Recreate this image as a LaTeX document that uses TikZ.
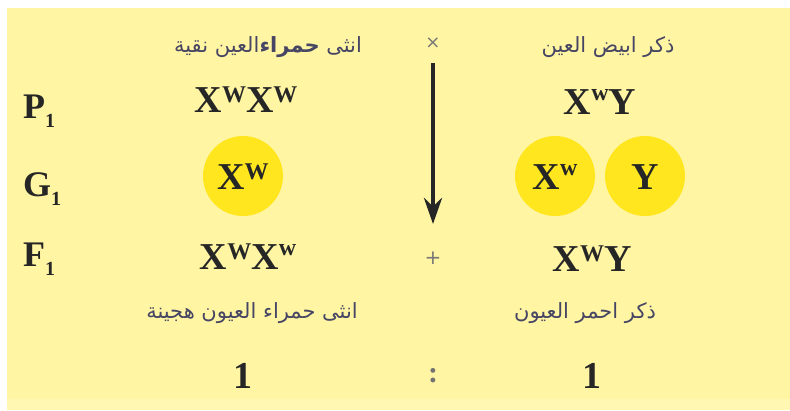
\documentclass[tikz,border=0pt]{standalone}
\usepackage{fontspec}
\setmainfont{Liberation Serif}
\newfontfamily\arabicfont[Script=Arabic]{DejaVu Sans}
\newfontfamily\symfont{DejaVu Sans}
\TeXXeTstate=1
\usetikzlibrary{arrows.meta}
\definecolor{bgyellow}{RGB}{255,245,163}
\definecolor{stripyellow}{RGB}{255,247,178}
\definecolor{gamyellow}{RGB}{255,230,30}
\definecolor{artext}{RGB}{70,70,100}
\definecolor{signgray}{RGB}{120,120,120}
\newcommand\gsupU[1]{\raisebox{10pt}{\fontsize{24}{24}\selectfont #1}}
\newcommand\gsupL[1]{\raisebox{14pt}{\fontsize{24}{24}\selectfont #1}}
\newcommand\gsub[1]{\raisebox{-9pt}{\fontsize{20}{20}\selectfont #1}}
\tikzset{
  geno/.style={font=\fontsize{38}{38}\selectfont\bfseries, text=black!85, inner sep=0pt},
  gen/.style={font=\fontsize{36}{36}\selectfont\bfseries, text=black!85, inner sep=0pt},
  artxt/.style={font=\arabicfont\fontsize{21}{21}\selectfont, text=artext, inner sep=0pt},
  gamete/.style={circle, fill=gamyellow, minimum size=80pt, inner sep=0pt},
  sign/.style={font=\symfont\fontsize{20}{20}\selectfont, text=signgray, inner sep=0pt}
}
\begin{document}
\begin{tikzpicture}[x=1pt,y=-1pt]
\useasboundingbox (0,0) rectangle (790,410);
\fill[white] (0,0) rectangle (790,410);
\fill[bgyellow] (7,8) rectangle (790,399);
\fill[stripyellow] (7,399) rectangle (790,410);
% column headers
\node[artxt] (hf) at (268,47) {\beginR انثى \textbf{حمراء}العين نقية\endR};
\node[artxt] (hm) at (608,47) {\beginR ذكر ابيض العين\endR};
\node[sign, font=\symfont\fontsize{18}{18}\selectfont] (cross) at (433,43) {×};
\coordinate (atop) at (433,63);
\coordinate (abot) at (433,224);
\draw[line width=4.5pt, black!85, -{Stealth[length=26pt,width=18pt]}] (atop) -- (abot);
% row labels
\node[gen, anchor=base west] (p1) at (23,118) {P\gsub{1}};
\node[gen, anchor=base west] (g1) at (23,196) {G\gsub{1}};
\node[gen, anchor=base west] (f1) at (23,266) {F\gsub{1}};
% P row
\node[geno, anchor=base] (pf) at (246,112) {X\gsupU{W}X\gsupU{W}};
\node[geno, anchor=base] (pm) at (600,114) {X\gsupL{w}Y};
% gametes
\node[gamete] (ga) at (243,176) {};
\node[geno, anchor=base] (gat) at (243,189) {X\gsupU{W}};
\node[gamete] (gb) at (555,176) {};
\node[geno, anchor=base] (gbt) at (555,189) {X\gsupL{w}};
\node[gamete] (gc) at (645,176) {};
\node[geno, anchor=base] (gct) at (645,189) {Y};
% F row
\node[geno, anchor=base] (ff) at (248,269) {X\gsupU{W}X\gsupL{w}};
\node[sign] (plus) at (433,258) {+};
\node[geno, anchor=base] (fm) at (592,271) {X\gsupU{W}Y};
% F descriptions
\node[artxt] (df) at (252,313) {\beginR انثى حمراء العيون هجينة\endR};
\node[artxt] (dm) at (585,313) {\beginR ذكر احمر العيون\endR};
% ratio
\node[geno, anchor=base] (r1) at (243,388) {1};
\node[font=\fontsize{30}{30}\selectfont\bfseries, text=black!55, inner sep=0pt] (colon) at (433,376) {:};
\node[geno, anchor=base] (r2) at (592,388) {1};
\end{tikzpicture}
\end{document}
